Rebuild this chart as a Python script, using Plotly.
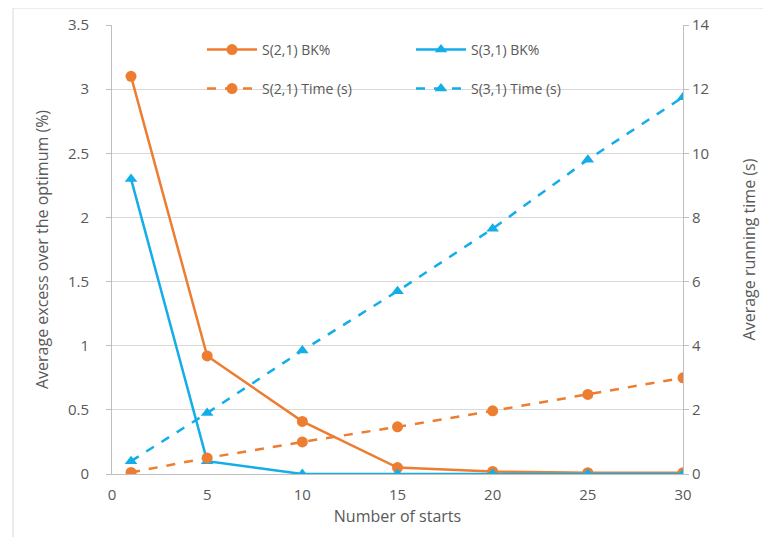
import plotly.graph_objects as go

starts = [1, 5, 10, 15, 20, 25, 30]
s21_bk = [3.1, 0.92, 0.41, 0.05, 0.02, 0.01, 0.01]
s31_bk = [2.3, 0.1, 0.0, 0.0, 0.0, 0.0, 0.0]
s21_time = [0.05, 0.5, 1.0, 1.47, 1.97, 2.48, 3.0]
s31_time = [0.4, 1.9, 3.85, 5.7, 7.65, 9.8, 11.75]

x_ticks = [0, 5, 10, 15, 20, 25, 30]
y_ticks = [0, 0.5, 1, 1.5, 2, 2.5, 3, 3.5]
y_labels = ["0", "0.5", "1", "1.5", "2", "2.5", "3", "3.5"]
y2_ticks = [0, 2, 4, 6, 8, 10, 12, 14]

ORANGE = "#ED7D31"
BLUE = "#13ADE8"
TXT = "#595959"
W, H = 771, 537
OFF = 8  # page body offset
L, R, T, B = 104, 96, 17, 71

pw = W - L - R
ph = H - T - B
def px(xs):  # screen x -> paper
    return (xs - OFF - L) / pw
def py(ys):  # screen y -> paper
    return (H - B - (ys - OFF)) / ph

fig = go.Figure()
fig.add_trace(go.Scatter(x=starts, y=s21_bk, name="S(2,1) BK%", mode="lines+markers",
                         line=dict(color=ORANGE, width=2.5),
                         marker=dict(symbol="circle", size=11, color=ORANGE), legend="legend"))
fig.add_trace(go.Scatter(x=starts, y=s31_bk, name="S(3,1) BK%", mode="lines+markers",
                         line=dict(color=BLUE, width=2.5),
                         marker=dict(symbol="triangle-up", size=11, color=BLUE), legend="legend2"))
fig.add_trace(go.Scatter(x=starts, y=s21_time, name="S(2,1) Time (s)", mode="lines+markers",
                         line=dict(color=ORANGE, width=2.5, dash="dash"),
                         marker=dict(symbol="circle", size=11, color=ORANGE),
                         yaxis="y2", legend="legend3"))
fig.add_trace(go.Scatter(x=starts, y=s31_time, name="S(3,1) Time (s)", mode="lines+markers",
                         line=dict(color=BLUE, width=2.5, dash="dash"),
                         marker=dict(symbol="triangle-up", size=11, color=BLUE),
                         yaxis="y2", legend="legend4"))

legend_common = dict(orientation="v", xanchor="left", yanchor="middle",
                     font=dict(family="Open Sans, sans-serif", size=14, color=TXT),
                     bgcolor="rgba(255,255,255,0)", itemwidth=50)

fig.update_layout(
    width=W, height=H,
    margin=dict(l=L, r=R, t=T, b=B, autoexpand=False),
    paper_bgcolor="white", plot_bgcolor="white",
    font=dict(family="Open Sans, sans-serif", size=14, color=TXT),
    showlegend=True,
    legend=dict(x=px(202), y=py(50), **legend_common),
    legend2=dict(x=px(411), y=py(50), **legend_common),
    legend3=dict(x=px(202), y=py(89), **legend_common),
    legend4=dict(x=px(411), y=py(89), **legend_common),
    xaxis=dict(range=[0, 30], tickvals=x_ticks, showgrid=False, automargin=False,
               showline=True, linecolor="#BFBFBF", linewidth=1,
               ticks="", tickfont=dict(size=15, color=TXT), ticklabelstandoff=7,
               title=dict(text="Number of starts", font=dict(size=16, color=TXT), standoff=7),
               zeroline=False),
    yaxis=dict(range=[0, 3.5], tickvals=y_ticks, ticktext=y_labels, automargin=False,
               showgrid=True, gridcolor="#D9D9D9", gridwidth=1,
               showline=True, linecolor="#BFBFBF", linewidth=1,
               ticks="outside", ticklen=5, tickcolor="#BFBFBF", ticklabelstandoff=14,
               tickfont=dict(size=15, color=TXT), zeroline=False,
               title=dict(text="Average excess over the optimum (%)",
                          font=dict(size=16, color=TXT), standoff=15)),
    yaxis2=dict(range=[0, 14], tickvals=y2_ticks, overlaying="y", side="right", automargin=False,
                showgrid=False, showline=True, linecolor="#BFBFBF", linewidth=1,
                ticks="outside", ticklen=5, tickcolor="#BFBFBF",
                tickfont=dict(size=15, color=TXT), zeroline=False,
                title=dict(text="Average running time (s)",
                           font=dict(size=16, color=TXT), standoff=35)),
)

fig.add_shape(type="rect", xref="paper", yref="paper",
              x0=px(13), x1=px(W + 30), y0=py(H + 30), y1=py(8),
              line=dict(color="#D9D9D9", width=1), layer="below")

fig.write_html("out.html")
